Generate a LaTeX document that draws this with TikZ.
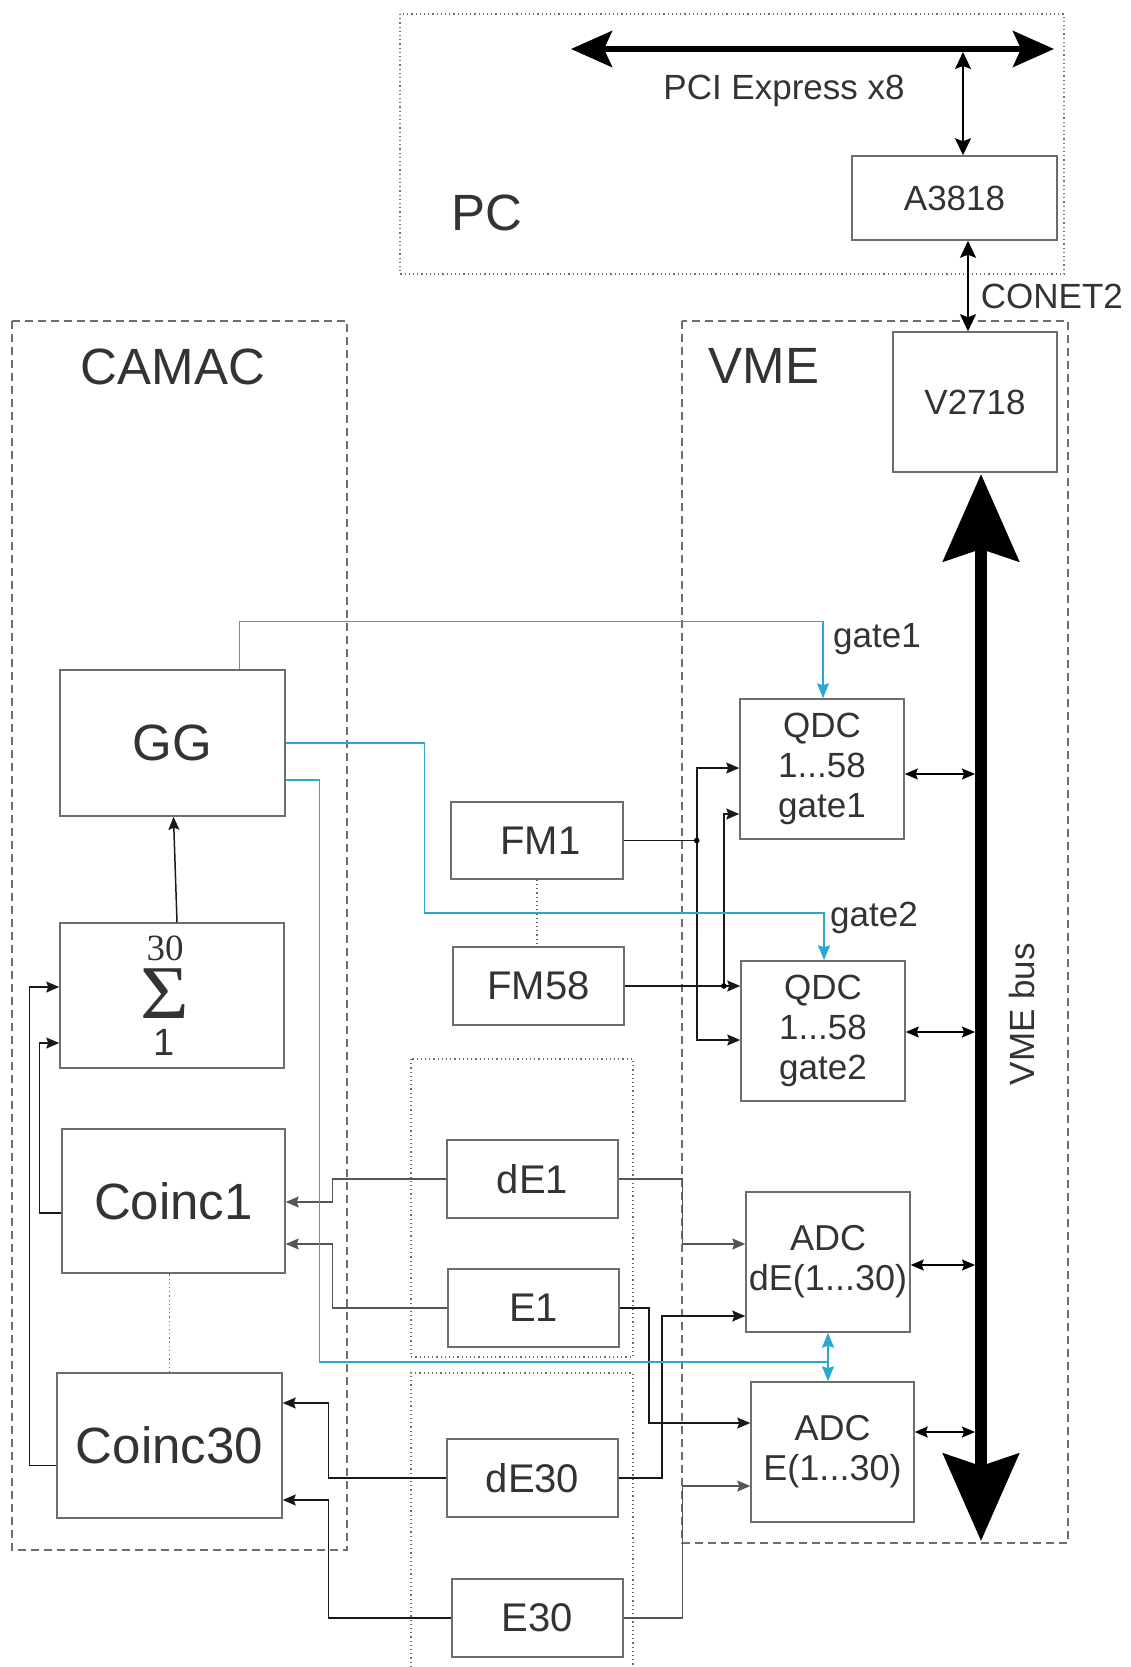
\documentclass[tikz,border=0pt]{standalone}
\usepackage{fontspec}
\usepackage{graphicx}
\setmainfont{Liberation Sans}
\newfontfamily\serifnum{Liberation Serif}
\usetikzlibrary{arrows.meta,calc}
\definecolor{txtgray}{HTML}{333333}
\definecolor{linegray}{HTML}{6E6E6E}
\definecolor{wiregray}{HTML}{555555}
\definecolor{gatecyan}{HTML}{2AA8D2}
\tikzset{
  box/.style={draw=linegray, line width=1.5pt, text=txtgray, align=center, inner sep=0pt,
              font=\fontsize{35}{40}\selectfont},
  fmbox/.style={box, minimum width=171pt, minimum height=78pt, font=\fontsize{40}{42}\selectfont},
  bigbox/.style={box, minimum width=225pt, minimum height=145pt, font=\fontsize{51}{58}\selectfont},
  modbox/.style={box, minimum width=164pt, minimum height=140pt},
  frame/.style={draw=linegray, line width=1.4pt, dash pattern=on 8pt off 5pt},
  grp/.style={draw=linegray, line width=1.2pt, dash pattern=on 1.2pt off 3pt},
  arr/.style={-{Stealth[length=13pt,width=11pt,inset=2pt]}, line width=1.5pt, draw=black!90},
  garr/.style={arr, draw=wiregray, line width=1.2pt},
  dbl/.style={{Stealth[length=13pt,width=11pt,inset=2pt]}-{Stealth[length=13pt,width=11pt,inset=2pt]}, line width=1.3pt},
  pcarr/.style={{Stealth[length=17pt,width=16pt,inset=3pt]}-{Stealth[length=17pt,width=16pt,inset=3pt]}, line width=1.8pt},
  pcibus/.style={{Stealth[length=41pt,width=36pt,inset=8pt]}-{Stealth[length=41pt,width=36pt,inset=8pt]}, line width=6pt},
  vmebus/.style={{Stealth[length=87pt,width=75pt,inset=12pt]}-{Stealth[length=87pt,width=75pt,inset=12pt]}, line width=12pt},
  bline/.style={draw=gatecyan, line width=1.4pt},
  barr/.style={bline, -{Stealth[length=15pt,width=12pt,inset=2pt]}},
  bdbl/.style={bline, {Stealth[length=15pt,width=12pt,inset=2pt]}-{Stealth[length=15pt,width=12pt,inset=2pt]}},
  lab/.style={text=txtgray, inner sep=0pt, font=\fontsize{35}{40}\selectfont},
  biglab/.style={lab, font=\fontsize{51}{58}\selectfont},
}

\begin{document}
\begin{tikzpicture}[x=1pt,y=-1pt]
  \useasboundingbox (0,0) rectangle (1130,1667);
  % PC
  \draw[grp, line width=1.1pt] (400,14) rectangle (1064,274);
  \node[biglab, anchor=base] (pc) at (487,230) {PC};
  \coordinate (pciL) at (571,49); \coordinate (pciR) at (1054,49);
  \draw[pcibus] (pciL) -- (pciR);
  \node[lab, anchor=base] (pcie) at (784,100) {PCI Express x8};
  \node[box, minimum width=205pt, minimum height=84pt] (a3818) at (954.5,198) {A3818};
  \coordinate (tap) at (963,52);
  \draw[pcarr] (tap) -- (tap |- a3818.north);
  % crates
  \draw[frame] (12,321) rectangle (347,1550);
  \node[biglab, anchor=base] (camac) at (173,384) {CAMAC};
  \draw[frame] (682,321) rectangle (1068,1543);
  \node[biglab, anchor=base] (vme) at (764,383) {VME};
  \node[modbox] (v2718) at (975,402) {V2718};
  \coordinate (cn) at ([xshift=13.5pt]a3818.south);
  \draw[pcarr] (cn) -- node[lab, pos=0.62, right=12pt] {CONET2} (cn |- v2718.north);
  \coordinate (busT) at (981,474); \coordinate (busB) at (981,1541); \coordinate (busL) at (975,474);
  \draw[vmebus] (busT) -- (busB);
  \node[lab, rotate=90] (busname) at (1022,1014) {VME bus};

  \node[bigbox, minimum height=146pt] (gg) at (172.5,743) {GG};
  \node[box, minimum width=224pt, minimum height=145pt, font=\fontsize{37}{46}\selectfont] (sig) at (172,995.5)
    {{\serifnum 30}\kern14pt\\[7pt] {\serifnum\fontsize{76}{76}\selectfont\scalebox{1.1}[1]{Σ}}\kern14pt\\[-9pt] {\fontsize{38}{46}\selectfont 1}\kern16pt};
  \node[bigbox, minimum width=223pt, minimum height=144pt] (c1) at (173.5,1201) {Coinc1};
  \node[bigbox] (c30) at (169.5,1445.5) {Coinc30};
  \draw[grp] (c30.north) -- (c30.north |- c1.south);
  \draw[arr] ([xshift=5pt]sig.north) -- ([xshift=1pt]gg.south);
  \draw[arr] ([yshift=-12pt]c1.west) -- ++(-22,0) |- ([yshift=-47.5pt]sig.west);
  \draw[arr] ([yshift=-20pt]c30.west) -- ++(-27,0) |- ([yshift=8.5pt]sig.west);

  \node[fmbox, minimum width=172pt, minimum height=77pt] (fm1) at (537,840.5) {\,FM1};
  \node[fmbox] (fm58) at (538.5,986) {FM58};
  \draw[grp] (fm1.south) -- (fm1.south |- fm58.north);
  \node[modbox] (q1) at (822,769) {QDC\\1...58\\gate1};
  \node[modbox] (q2) at (823,1031) {QDC\\1...58\\gate2};
  \draw[arr] (fm1.east) -- ++(73,0) coordinate (j1) |- ([yshift=1pt]q1.west);
  \draw[arr] (j1) |- ([yshift=-9pt]q2.west);
  \draw[arr] (fm58.east) -- (fm58.east -| q2.west);
  \path (fm58.east) -- ++(99,0) coordinate (j2);
  \draw[arr] (j2) |- ([yshift=-45pt]q1.west);
  \fill (j1) circle (2.8pt); \fill (j2) circle (2.8pt);

  \draw[grp] (411,1059) rectangle (633,1357);
  \draw[grp] (411,1667) -- (411,1373) -- (633,1373) -- (633,1667);
  \node[fmbox] (de1) at (532.5,1179) {dE1};
  \node[fmbox] (e1) at (533.5,1308) {E1};
  \node[fmbox] (de30) at (532.5,1478) {dE30};
  \node[fmbox] (e30) at (537.5,1618) {E30};
  \node[modbox, font=\fontsize{36}{40}\selectfont] (a1) at (828,1262) {ADC\\dE(1...30)};
  \node[modbox, minimum width=163pt, font=\fontsize{36}{40}\selectfont] (a2) at (832.5,1452) {ADC\\E(1...30)};

  \draw[garr] (de1.west) -- ++(-114,0) |- ([yshift=-1pt]c1.east);
  \draw[garr] (e1.west) -- ++(-115,0) |- ([yshift=-43pt]c1.east);
  \draw[arr] (de30.west) -- ++(-118,0) |- ([yshift=42.5pt]c30.east);
  \draw[arr] (e30.west) -- ++(-123,0) |- ([yshift=-54.5pt]c30.east);
  \draw[garr] (de1.east) -- ++(64,0) |- ([yshift=18pt]a1.west);
  \draw[arr] (e1.east) -- ++(29,0) |- ([yshift=29pt]a2.west);
  \draw[arr] (de30.east) -- ++(43,0) |- ([yshift=-54pt]a1.west);
  \draw[garr] (e30.east) -- ++(59,0) |- ([yshift=-34pt]a2.west);

  \foreach \m/\dy in {q1/5, q2/1, a1/3, a2/-20}
    \draw[dbl] ($(\m.east)+(0,\dy)$) -- ($(\m.east -| busL)+(0,\dy)$);

  \draw[barr] ([xshift=67pt]gg.north) -- ++(0,-48) -| ([xshift=1pt]q1.north);
  \draw[barr] (gg.east) -- ++(139,0) -- ++(0,170) -| ([xshift=1pt]q2.north);
  \coordinate (amid) at ($(a1.south)!0.6!(a1.south |- a2.north)$);
  \draw[bline] ([yshift=-37pt]gg.east) -- ++(34,0) |- (amid);
  \draw[bdbl] (a1.south) -- (a1.south |- a2.north);
  \node[lab, anchor=base west] (g1) at ($(q1.north)+(11,-51)$) {gate1};
  \node[lab, anchor=base west] (g2) at ($(q2.north)+(7,-34)$) {gate2};
\end{tikzpicture}
\end{document}
